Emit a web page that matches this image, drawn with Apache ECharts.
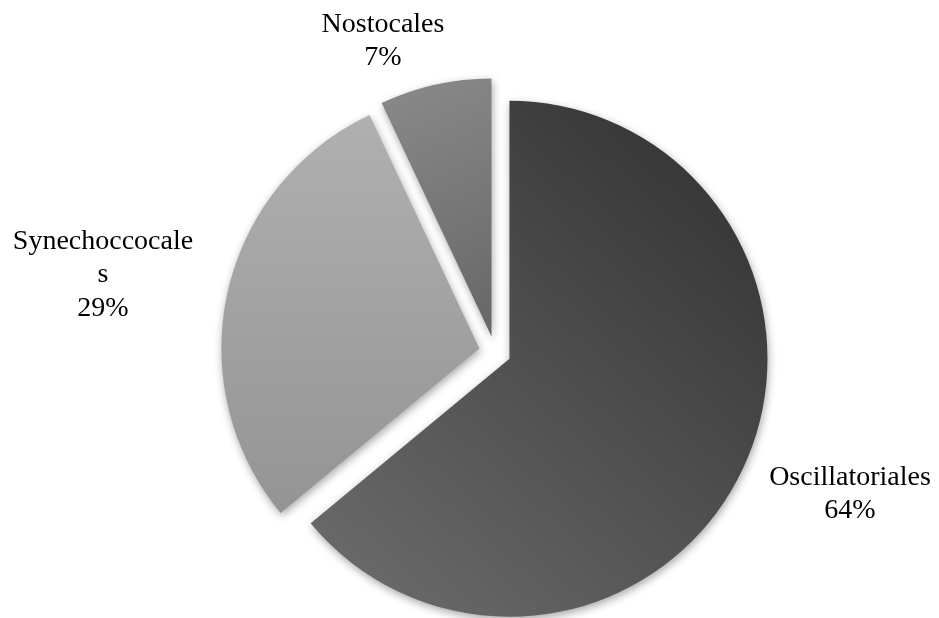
<!DOCTYPE html>
<html><head><meta charset="utf-8">
<script src="https://cdn.jsdelivr.net/npm/echarts@6/dist/echarts.min.js"></script>
<style>html,body{margin:0;padding:0;background:#fff}#c{width:939px;height:618px}</style>
</head><body><div id="c"></div>
<script>
const categories = ['Oscillatoriales', 'Synechoccocales', 'Nostocales'];
const values = [64, 29, 7];
const percentLabels = ['64%', '29%', '7%'];

const sliceColors = [['#2f2f2f', '#6e6e6e'], ['#b0b0b0', '#949494'], ['#8a8a8a', '#666666']];
const gradDirs = [[1, 0, 0, 1], [0, 0, 0, 1], [0, 0, 1, 1]];
const labelSpots = [[850, 494], [103, 275], [383, 41]];

const chart = echarts.init(document.getElementById('c'), null, { renderer: 'canvas' });

const data = categories.map((name, i) => {
  const d = gradDirs[i];
  const style = {
    color: new echarts.graphic.LinearGradient(d[0], d[1], d[2], d[3], [
      { offset: 0, color: sliceColors[i][0] },
      { offset: 1, color: sliceColors[i][1] }
    ]),
    shadowBlur: 8,
    shadowColor: 'rgba(0,0,0,0.35)',
    shadowOffsetX: 1,
    shadowOffsetY: 3
  };
  return { name, value: values[i], selected: true, itemStyle: style, select: { itemStyle: style } };
});

const labelTexts = categories.map((name, i) => ({
  type: 'text',
  x: labelSpots[i][0],
  y: labelSpots[i][1],
  silent: true,
  style: {
    text: name + '\n' + percentLabels[i],
    fontFamily: 'Liberation Serif, Times New Roman, serif',
    fontSize: 28,
    lineHeight: 33.5,
    fill: '#000',
    width: 186,
    overflow: 'breakAll',
    align: 'center',
    verticalAlign: 'middle'
  }
}));

chart.setOption({
  animation: false,
  backgroundColor: '#ffffff',
  graphic: labelTexts,
  series: [{
    type: 'pie',
    center: [495, 352],
    radius: 258,
    startAngle: 90,
    clockwise: true,
    selectedMode: 'multiple',
    selectedOffset: 16,
    avoidLabelOverlap: false,
    emphasis: { disabled: true },
    label: { show: false },
    labelLine: { show: false },
    data
  }]
});
</script></body></html>
